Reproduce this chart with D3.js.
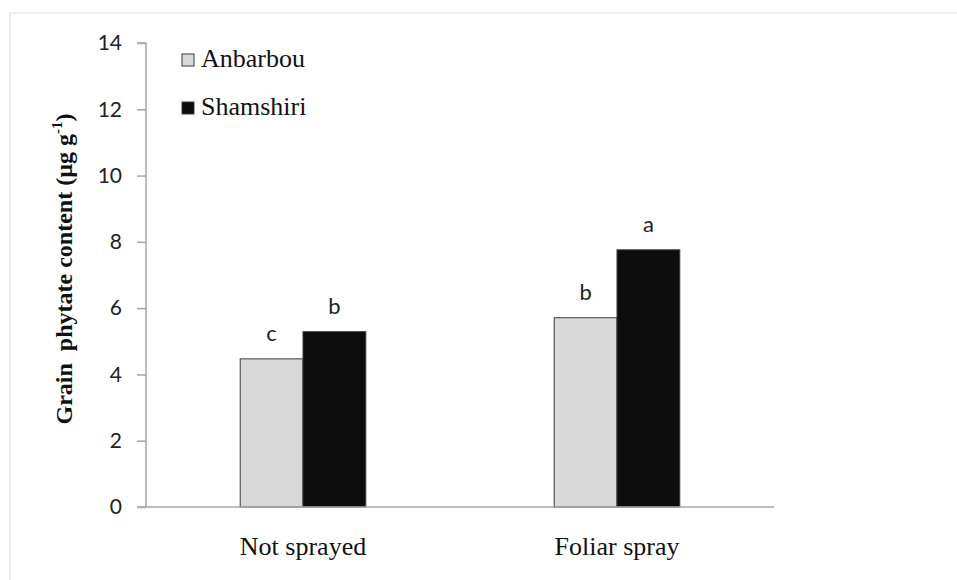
<!DOCTYPE html>
<html>
<head>
<meta charset="utf-8">
<script src="https://cdn.jsdelivr.net/npm/d3@7"></script>
<style>
  body { margin: 0; background: #fff; }
  svg { display: block; }
  .serif { font-family: "Liberation Serif", "Times New Roman", serif; }
  .sans { font-family: Lato, "Open Sans", sans-serif; }
</style>
</head>
<body>
<svg id="chart" width="957" height="580"></svg>
<script>
// Grain phytate content, two cultivars under two treatments

const categories = ['Not sprayed', 'Foliar spray'];
const cultivars = ['Anbarbou', 'Shamshiri'];
const anbarbou = [4.47, 5.71];
const shamshiri = [5.29, 7.76];
const letters = {Anbarbou: ['c', 'b'], Shamshiri: ['b', 'a']};
const yTicks = [0, 2, 4, 6, 8, 10, 12, 14];

const colors = {Anbarbou: '#d9d9d9', Shamshiri: '#0d0d0d'};

const svg = d3.select('#chart');
const margin = {left: 146, right: 183, top: 43, bottom: 73};
const width = 957, height = 580;

// light frame round the chart area
svg.append('rect')
  .attr('x', 10).attr('y', 13)
  .attr('width', 960).attr('height', 590)
  .attr('fill', 'none')
  .attr('stroke', '#efefef')
  .attr('stroke-width', 2);

const x0 = d3.scaleBand()
  .domain(categories)
  .range([margin.left, width - margin.right])
  .paddingInner(0.6).paddingOuter(0.3);
const x1 = d3.scaleBand()
  .domain(cultivars)
  .range([0, x0.bandwidth()]);
const y = d3.scaleLinear()
  .domain([0, 14])
  .range([height - margin.bottom, margin.top]);

const rows = categories.map((c, i) => ({
  category: c,
  values: [
    {key: 'Anbarbou', value: anbarbou[i], letter: letters.Anbarbou[i]},
    {key: 'Shamshiri', value: shamshiri[i], letter: letters.Shamshiri[i]}
  ]
}));

const groups = svg.selectAll('g.group')
  .data(rows)
  .enter().append('g')
    .attr('class', 'group')
    .attr('transform', d => `translate(${x0(d.category)},0)`);

groups.selectAll('rect')
  .data(d => d.values)
  .enter().append('rect')
    .attr('x', d => x1(d.key))
    .attr('y', d => y(d.value))
    .attr('width', x1.bandwidth())
    .attr('height', d => y(0) - y(d.value))
    .attr('fill', d => colors[d.key])
    .attr('stroke', '#3a3a3a')
    .attr('stroke-width', 1);

groups.selectAll('text.letter')
  .data(d => d.values)
  .enter().append('text')
    .attr('class', 'letter sans')
    .attr('x', d => x1(d.key) + x1.bandwidth() / 2)
    .attr('y', d => y(d.value) - 18)
    .attr('text-anchor', 'middle')
    .style('font-size', '22px')
    .attr('fill', '#222')
    .text(d => d.letter);

// y axis
const yAxis = svg.append('g')
  .attr('transform', `translate(${margin.left},0)`)
  .call(d3.axisLeft(y).tickValues(yTicks).tickSize(9).tickPadding(15));
yAxis.selectAll('line, path').attr('stroke', '#a6a6a6').attr('stroke-width', 1.5);
yAxis.select('.domain').attr('d', `M-9,${y(14)}H0V${y(0)}`);
yAxis.selectAll('text')
  .attr('class', 'sans')
  .style('font-size', '21px')
  .attr('fill', '#222');

// x axis
const xAxis = svg.append('g')
  .attr('transform', `translate(0,${y(0)})`)
  .call(d3.axisBottom(x0).tickSize(0));
xAxis.select('.domain').attr('stroke', '#a6a6a6').attr('stroke-width', 1.5)
  .attr('d', `M${margin.left - 9},0H${width - margin.right}`);
xAxis.selectAll('text')
  .attr('class', 'serif')
  .attr('y', 48).attr('dy', 0)
  .style('font-size', '26px')
  .attr('fill', '#111');

// y axis title
const title = svg.append('text')
  .attr('class', 'serif')
  .attr('transform', `translate(72,${(y(0) + y(14)) / 2 - 6}) rotate(-90)`)
  .attr('text-anchor', 'middle')
  .style('font-weight', 'bold')
  .style('font-size', '24px')
  .attr('fill', '#111');
title.append('tspan').style('white-space', 'pre').text('Grain  phytate content (µg g');
title.append('tspan').style('font-size', '15px').attr('dy', -10).text('-1');
title.append('tspan').attr('dy', 10).text(')');

// legend
const legend = svg.selectAll('g.legend')
  .data(cultivars)
  .enter().append('g')
    .attr('class', 'legend')
    .attr('transform', (d, i) => `translate(182,${54 + i * 48})`);
legend.append('rect')
  .attr('width', 12).attr('height', 12)
  .attr('fill', d => colors[d])
  .attr('stroke', '#3a3a3a')
  .attr('stroke-width', 1);
legend.append('text')
  .attr('class', 'serif')
  .attr('x', 19).attr('y', 13)
  .style('font-size', '26px')
  .attr('fill', '#111')
  .text(d => d);
</script>
</body>
</html>
